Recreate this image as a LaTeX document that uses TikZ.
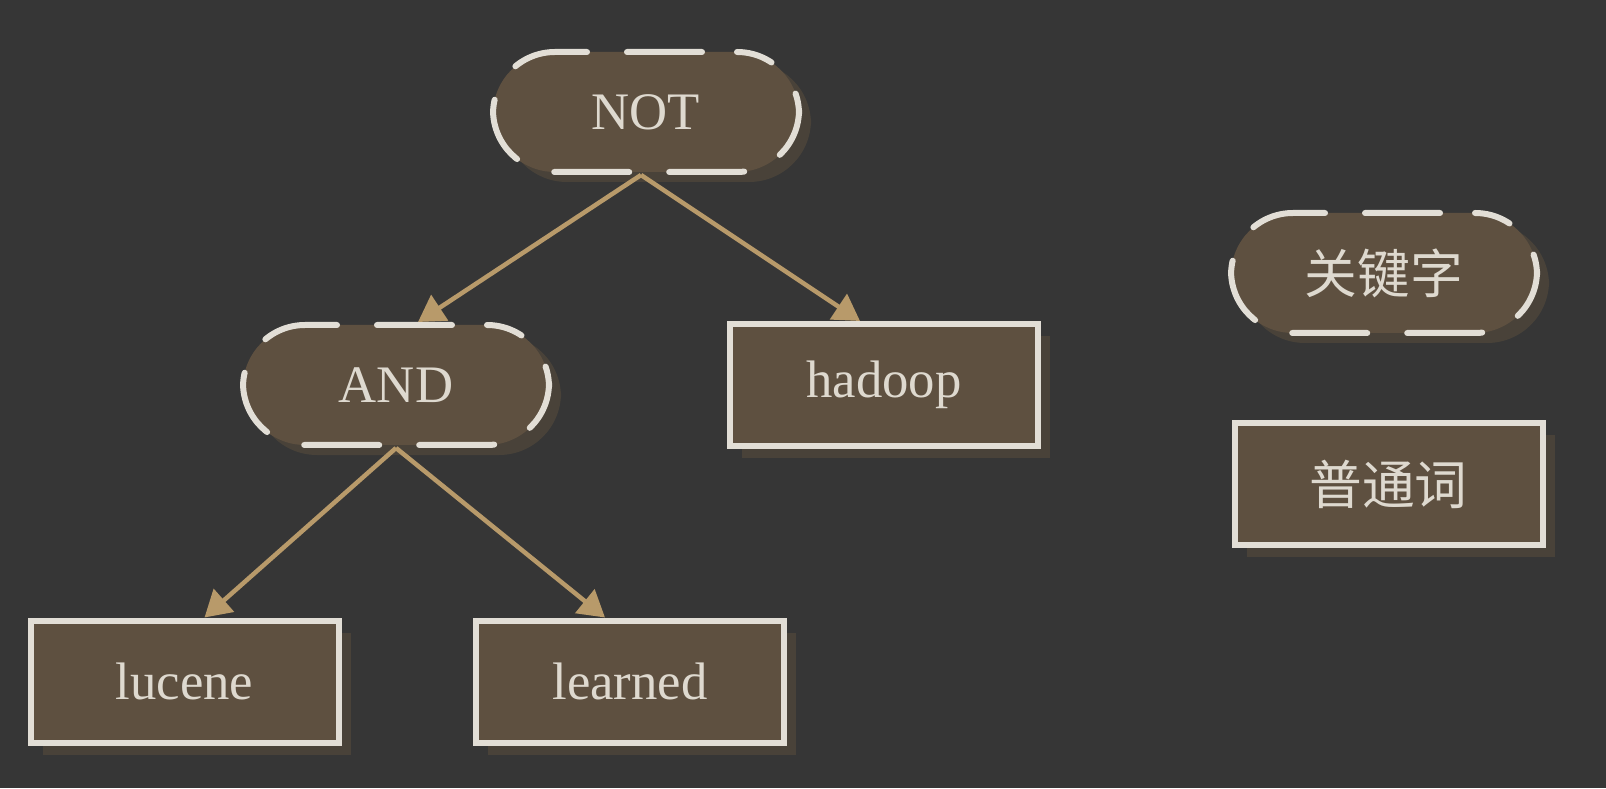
\documentclass[tikz,border=0pt]{standalone}
\usepackage{fontspec}
\setmainfont{Liberation Serif}
\newfontfamily\cjk{Noto Sans CJK SC}
\usepackage{xcolor}
\usetikzlibrary{positioning, arrows.meta, shadows}

\definecolor{bgdark}{RGB}{54,54,54}
\definecolor{boxfill}{RGB}{94,80,64}
\definecolor{boxline}{RGB}{226,222,214}
\definecolor{boxtext}{RGB}{222,217,207}
\definecolor{edgetan}{RGB}{184,154,106}
\definecolor{shadowbrown}{RGB}{78,70,58}

\begin{document}
\begin{tikzpicture}[
        >={Triangle[width=0.3cm, length=0.26cm]},
        keyword/.style={rectangle, draw=boxline, line width=0.06cm, rounded corners=0.62cm,
                dash pattern=on 0.75cm off 0.4cm, dash phase=0.8cm, line cap=round,
                minimum height=1.2cm, minimum width=3.06cm, align=center,
                font=\fontsize{15}{18}\selectfont, text=boxtext, fill=boxfill,
                drop shadow={shadow xshift=0.12cm, shadow yshift=-0.1cm, fill=shadowbrown, opacity=0.8}},
        plainword/.style={rectangle, draw=boxline, line width=0.06cm,
                minimum height=1.22cm, minimum width=3.08cm, align=center,
                font=\fontsize{15}{18}\selectfont, text=boxtext, fill=boxfill,
                drop shadow={shadow xshift=0.12cm, shadow yshift=-0.12cm, fill=shadowbrown, opacity=0.8}},
        arrow/.style={->, line width=0.045cm, edgetan},
        ]

        \fill[bgdark] (0,0) rectangle (16.06,7.88);
        \useasboundingbox (0,0) rectangle (16.06,7.88);

        \node[keyword] (opnot) at (6.46,6.76) {NOT};
        \node[keyword] (opand) at (3.96,4.03) {AND};
        \node[plainword] (hadoop) at (8.84,4.03) {hadoop};
        \node[plainword] (lucene) at (1.845,1.065) {lucene};
        \node[plainword] (learned) at (6.30,1.065) {learned};

        % legend
        \node[keyword] (legkey) at (13.84,5.15) {\cjk 关键字};
        \node[plainword] (legword) at (13.885,3.04) {\cjk 普通词};

        \draw[arrow] ([xshift=-0.05cm]opnot.south) -- ([xshift=0.22cm]opand.north);
        \draw[arrow] ([xshift=-0.05cm]opnot.south) -- ([xshift=-0.24cm]hadoop.north);
        \draw[arrow] (opand.south) -- ([xshift=0.2cm]lucene.north);
        \draw[arrow] (opand.south) -- ([xshift=-0.25cm]learned.north);

    \end{tikzpicture}
\end{document}
